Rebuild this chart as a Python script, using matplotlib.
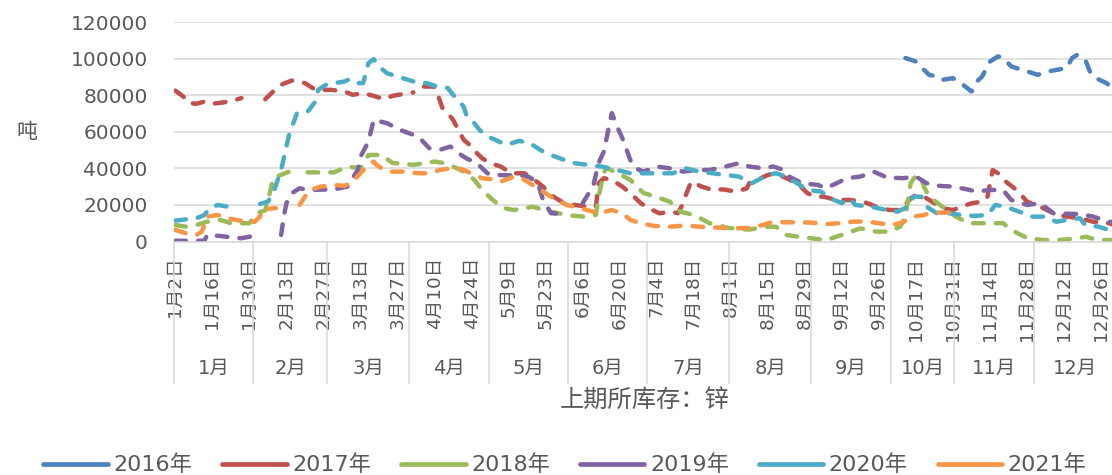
"""上期所库存：锌 —— 2016-2021 年按日期类别轴的季节性折线图."""

import matplotlib
matplotlib.use('Agg')
import matplotlib.pyplot as plt
import matplotlib.transforms as mtransforms
import numpy as np

# category axis: one slot per calendar day, holidays without quotes dropped
MONTH_DAYS = [31, 28, 31, 30, 31, 30, 31, 31, 30, 31, 30, 31]
SKIP_DAYS = ['1-1', '5-1', '10-1', '10-2', '10-3', '10-4', '10-5', '10-6', '10-7']
MONTH_LABELS = ['1月', '2月', '3月', '4月', '5月', '6月',
                '7月', '8月', '9月', '10月', '11月', '12月']

SERIES_NAMES = ['2016年', '2017年', '2018年', '2019年', '2020年', '2021年']
COLORS = ['#4F81BD', '#C0504D', '#9BBB59', '#8064A2', '#4BACC6', '#F79646']

# None marks a break in the line (no data)
DATES_2016 = ['10-13', '10-17', '10-20', '10-22', '10-25', '10-27', '10-31', '11-3',
              '11-7', '11-9', '11-11', '11-14', '11-17', '11-19', '11-22', '11-28',
              '12-2', '12-6', '12-11', '12-13', '12-15', '12-17', '12-20', '12-22',
              '12-24', '12-28', '12-31']
STOCK_2016 = [100300, 98400, 93900, 91100, 90200, 88400, 89300, 86600,
              82000, 87500, 90200, 98400, 101200, 100300, 95700, 93000,
              91100, 93000, 94300, 94800, 100300, 102100, 99400, 92000,
              89300, 86600, 83000]

DATES_2017 = ['1-2', '1-5', '1-7', '1-10', '1-13', '1-16', '1-20', '1-24', '1-27', '2-1',
              '2-5', '2-8', '2-11', '2-15', '2-20', '2-24', '3-2', '3-7', '3-10', '3-14',
              '3-18', '3-22', '3-25', '3-31', '4-2', '4-4', '4-6', '4-10', '4-11', '4-13',
              '4-15', '4-17', '4-19', '4-21', '4-24', '4-26', '4-28', '5-2', '5-6', '5-10',
              '5-15', '5-18', '5-22', '5-26', '5-30', '6-3', '6-8', '6-11', '6-12', '6-14',
              '6-17', '6-21', '6-24', '6-28', '7-1', '7-5', '7-9', '7-12', '7-14', '7-15',
              '7-17', '7-21', '7-25', '7-29', '8-3', '8-7', '8-8', '8-11', '8-15', '8-18',
              '8-22', '8-26', '8-30', '9-2', '9-5', '9-10', '9-15', '9-20', '9-25', '9-30',
              '10-11', '10-15', '10-17', '10-20', '10-23', '10-27', '10-31', '11-3', '11-7',
              '11-11', '11-13', '11-15', '11-17', '11-20', '11-24', '11-28', '12-3', '12-8',
              '12-13', '12-18', '12-23', '12-29', '12-31']
STOCK_2017 = [82500, 79300, 75700, 75300, 76500, 75300, 76000, 77100, 78400, None,
              77800, 82000, 85700, 88000, 86600, 82900, 82900, 82000, 80200, 81100,
              79600, 77800, 79600, 81100, 81500, None, 84700, 84700, 81100, 72900,
              70200, 66500, 61000, 55600, 51900, 48300, 45500, 42800, 41000, 37300,
              37300, 34600, 30000, 24500, 20900, 20000, 19000, 19000, 31900, 34600,
              33700, 30000, 26400, 20900, 18200, 15400, 16300, 15500, 20900, 25400,
              32700, 30000, 28200, 28500, 27300, 29000, 31900, 33700, 36400, 37300,
              34600, 31900, 26400, 24500, 24500, 22700, 22700, 21800, 19000, 17200,
              17200, 23600, 25400, 24500, 21800, 18200, 17200, 19000, 20900,
              21800, 24300, 39100, 37300, 32700, 28200, 21800, 19000, 15400,
              13600, 12700, 10800, 10000, 9000]

DATES_2018 = ['1-2', '1-6', '1-10', '1-14', '1-19', '1-23', '1-30', '2-2', '2-5', '2-7',
              '2-8', '2-10', '2-14', '2-17', '2-21', '3-3', '3-8', '3-13', '3-16', '3-21',
              '3-25', '4-2', '4-10', '4-13', '4-17', '4-22', '4-25', '4-28', '5-3', '5-7',
              '5-11', '5-18', '5-25', '5-31', '6-6', '6-11', '6-12', '6-14', '6-15', '6-19',
              '6-24', '6-29', '7-4', '7-9', '7-13', '7-18', '7-24', '7-31', '8-8', '8-14',
              '8-18', '8-22', '8-27', '9-6', '9-12', '9-19', '9-25', '9-30', '10-11', '10-13',
              '10-15', '10-17', '10-19', '10-20', '10-22', '10-27', '11-1', '11-6', '11-14',
              '11-19', '11-22', '11-28', '12-4', '12-10', '12-16', '12-20', '12-25', '12-31']
STOCK_2018 = [9000, 8100, 9000, 10800, 11800, 10000, 10000, 15600, 17000, 28200,
              34700, 35900, 38200, None, 37800, 37800, 41000, 40000, 47300, 47300,
              43000, 41900, 43700, 43000, 41000, 37500, 33700, 28200, 22700, 18300,
              17200, 19000, 16300, 14500, 13600, 14500, 24500, 37500, 40200, 37500,
              33700, 26500, 24300, 21700, 16300, 14500, 10000, 7400, 6500, 8100,
              8100, 3600, 2500, 800, 3600, 7200, 5400, 5400, 8100, 13600,
              32000, 36000, 34000, 30000, 24500, 19000, 13600, 10000, 10000,
              10000, 6300, 1900, 800, 800, 1500, 2600, 800, 800]

DATES_2019 = ['1-2', '1-13', '1-14', '1-19', '1-23', '1-27', '1-30', '2-1', '2-5', '2-11',
              '2-12', '2-13', '2-15', '2-18', '2-21', '3-3', '3-8', '3-12', '3-13', '3-16',
              '3-18', '3-23', '3-28', '4-2', '4-5', '4-8', '4-12', '4-16', '4-19', '4-22',
              '4-26', '4-30', '5-3', '5-15', '5-17', '5-20', '5-22', '5-25', '5-28', '5-31',
              '6-3', '6-6', '6-10', '6-12', '6-14', '6-17', '6-19', '6-21', '6-24', '6-26',
              '6-29', '7-4', '7-9', '7-14', '7-19', '7-24', '7-30', '8-4', '8-8', '8-13',
              '8-17', '8-21', '8-23', '8-28', '9-3', '9-6', '9-10', '9-14', '9-19', '9-24',
              '9-29', '10-12', '10-17', '10-21', '10-26', '10-31', '11-5', '11-9', '11-14',
              '11-19', '11-22', '11-28', '12-3', '12-8', '12-18', '12-23', '12-29', '12-31']
STOCK_2019 = [400, 400, 3600, 3000, 2300, 1800, 2600, 3400, None, 3600,
              13600, 20900, 26400, 29100, 28200, 28500, 30000, 39100, 46400, 54600,
              66500, 64700, 61000, 58300, 55600, 51000, 50100, 51900, 48300, 45500,
              42800, 37300, 36400, 36000, 35000, 32000, 22700, 15500, 15100, 16300,
              None, 20900, 30500, 42800, 49200, 70200, 62800, 56500, 44600, 40000,
              38200, 41000, 40000, 38200, 39100, 39100, 41000, 42800, 41000, 40000,
              41000, 39100, 35500, 31900, 30900, 29100, 31900, 34600, 35500, 38200,
              35000, 34600, 35500, 31900, 30400, 30000, 28600, 27300, 28200,
              28000, 22700, 20000, 20900, 15400, 15000, 13600, 10800, 10500]

DATES_2020 = ['1-2', '1-6', '1-10', '1-13', '1-15', '1-18', '1-22', '1-24', '2-1', '2-3',
              '2-6', '2-8', '2-11', '2-13', '2-14', '2-17', '2-21', '2-24', '2-25', '2-28',
              '3-3', '3-7', '3-9', '3-12', '3-14', '3-16', '3-18', '3-20', '3-23', '3-27',
              '3-31', '4-4', '4-7', '4-11', '4-15', '4-17', '4-21', '4-22', '4-25', '4-27',
              '4-30', '5-4', '5-8', '5-13', '5-17', '5-22', '5-25', '5-30', '6-3', '6-8',
              '6-13', '6-19', '6-24', '6-29', '7-5', '7-10', '7-15', '7-20', '7-25', '7-30',
              '8-4', '8-9', '8-15', '8-18', '8-22', '8-26', '8-30', '9-4', '9-9', '9-12',
              '9-15', '9-17', '9-23', '9-28', '10-10', '10-14', '10-16', '10-19', '10-21',
              '10-25', '10-30', '11-3', '11-8', '11-13', '11-16', '11-20', '11-25', '11-30',
              '12-5', '12-9', '12-13', '12-18', '12-20', '12-25', '12-29', '12-31']
STOCK_2020 = [11400, 12100, 12700, 14500, 18200, 20000, 19000, 20500, None, 20500,
              21800, 26400, 39100, 51900, 58300, 70200, 71000, 76500, 82900, 85700,
              86600, 87500, 88800, 86600, 86600, 97500, 99700, 95700, 92000, 90200,
              88400, 86600, 86600, 84700, 83900, 80200, 73800, 69200, 64700, 61000,
              57400, 55600, 52800, 55000, 53700, 49200, 47300, 44600, 42800, 41900,
              41000, 39100, 37300, 37300, 37300, 37300, 40000, 38200, 37300, 36400,
              35500, 31900, 36400, 37300, 35500, 31900, 28200, 27300, 22700, 21000,
              23600, 20000, 19000, 17500, 16300, 19000, 24500, 24500, 19000,
              15400, 15400, 14500, 14000, 14500, 20000, 19000, 16300, 13600,
              13600, 10800, 11800, 12700, 9000, 8100, 6300, 6000]

DATES_2021 = ['1-2', '1-6', '1-10', '1-12', '1-13', '1-14', '1-18', '1-22', '1-25', '1-29',
              '2-1', '2-3', '2-4', '2-8', '2-9', '2-12', '2-18', '2-20', '2-22', '2-26',
              '3-3', '3-7', '3-10', '3-13', '3-16', '3-18', '3-19', '3-22', '3-24', '3-29',
              '4-4', '4-8', '4-12', '4-16', '4-19', '4-21', '4-25', '4-28', '5-3', '5-6',
              '5-11', '5-15', '5-18', '5-22', '5-26', '5-31', '6-5', '6-10', '6-12', '6-17',
              '6-21', '6-24', '6-28', '7-3', '7-9', '7-15', '7-20', '7-27', '8-2', '8-8',
              '8-13', '8-17', '8-22', '8-27', '9-1', '9-6', '9-11', '9-16', '9-21', '9-26',
              '10-8', '10-12', '10-16', '10-20', '10-23', '10-30']
STOCK_2021 = [6300, 4500, 3600, 5400, 9000, 13600, 14500, 12700, 11800, 10800,
              10800, 13600, 17200, 18200, 18200, None, 20000, 24500, 28200, 30000,
              30900, 30400, 32700, 37300, 41900, 43700, 41900, 39100, 38200, 38200,
              37300, 37300, 39100, 40000, 40000, 39100, 36400, 34600, 34000, 32700,
              35500, 33700, 30900, 27300, 23600, 20000, 18200, 16300, 15400, 17200,
              15400, 11800, 10000, 8500, 8100, 8800, 8100, 7600, 7200, 7400,
              9000, 10800, 10500, 10500, 10300, 9500, 10000, 10800, 11000, 10000,
              9000, 10500, 13600, 14500, 15800, 15800]

SERIES_DATES = [DATES_2016, DATES_2017, DATES_2018, DATES_2019, DATES_2020, DATES_2021]
SERIES_STOCK = [STOCK_2016, STOCK_2017, STOCK_2018, STOCK_2019, STOCK_2020, STOCK_2021]

Y_TICKS = [0, 20000, 40000, 60000, 80000, 100000, 120000]
TICK_STEP = 14  # one date label every 14 category slots

TEXT = '#595959'
GRID = '#D9D9D9'


def _categories():
    """Return (keys, labels, month_of_slot) for the category axis."""
    keys, labels, months = [], [], []
    for m, n in enumerate(MONTH_DAYS, start=1):
        for d in range(1, n + 1):
            key = f'{m}-{d}'
            if key in SKIP_DAYS:
                continue
            keys.append(key)
            labels.append(f'{m}月{d}日')
            months.append(m)
    return keys, labels, np.array(months)


def plot(out='out.png'):
    plt.rcParams['font.family'] = ['DejaVu Sans', 'Noto Sans CJK SC']
    keys, labels, months = _categories()
    slot = {k: i for i, k in enumerate(keys)}

    fig = plt.figure(figsize=(11.12, 4.75), dpi=100)
    ax = fig.add_axes([174 / 1112, 1 - 241.5 / 475, 941.7 / 1112, 219.5 / 475])

    for name, color, dates, stock in zip(SERIES_NAMES, COLORS, SERIES_DATES, SERIES_STOCK):
        x = [slot[d] for d in dates]
        y = np.array([np.nan if v is None else v for v in stock], dtype=float)
        line, = ax.plot(x, y, color=color, lw=3.2, label=name,
                        dash_capstyle='round', solid_capstyle='round')
        line.set_dashes((2.4, 2.7))

    ax.set_xlim(-0.5, len(keys) - 0.5)
    ax.set_ylim(0, 120000)
    ax.set_yticks(Y_TICKS)
    ax.set_yticklabels([str(v) for v in Y_TICKS])
    ax.yaxis.grid(True, color=GRID, lw=1.1)
    ax.set_axisbelow(True)
    for side in ('left', 'right', 'top'):
        ax.spines[side].set_visible(False)
    ax.spines['bottom'].set_color(GRID)
    ax.spines['bottom'].set_linewidth(1.1)
    ax.tick_params(axis='y', length=0, pad=19, labelsize=14.5, labelcolor=TEXT)

    # date labels every two weeks
    pos = np.arange(0, len(keys), TICK_STEP)
    ax.set_xticks(pos)
    ax.set_xticklabels([labels[i] for i in pos], rotation=90)
    ax.tick_params(axis='x', which='major', length=0, pad=11,
                   labelsize=13.3, labelcolor=TEXT)

    # month group separators and month names
    starts = [int(np.argmax(months == m)) for m in range(1, 13)]
    bounds = [s - 0.5 for s in starts] + [len(keys) - 0.5]
    ax.set_xticks(bounds, minor=True)
    ax.tick_params(axis='x', which='minor', length=102, width=1.1,
                   color=GRID, direction='out')
    trans = mtransforms.blended_transform_factory(ax.transData, ax.transAxes)
    for m, label in enumerate(MONTH_LABELS):
        mid = (bounds[m] + bounds[m + 1]) / 2
        ax.text(mid, -126.5 / 219.5, label, transform=trans, ha='center',
                va='center', fontsize=14, color=TEXT)

    fig.text(27 / 1112, 1 - 132 / 475, '吨', ha='center', va='center',
             fontsize=15, color=TEXT)
    fig.text(645 / 1112, 1 - 401 / 475, '上期所库存：锌', ha='center', va='center',
             fontsize=17.5, color=TEXT)

    fig.legend(loc='center', bbox_to_anchor=(565 / 1112, 1 - 465 / 475), ncol=6,
               frameon=False, fontsize=16, handlelength=2.9, handletextpad=0.25,
               columnspacing=1.35, labelcolor=TEXT)
    for h in fig.legends[0].get_lines():
        h.set_linestyle('-')
        h.set_linewidth(3.4)

    fig.savefig(out, dpi=100)
    plt.close(fig)


def main():
    plot()


if __name__ == '__main__':
    main()
